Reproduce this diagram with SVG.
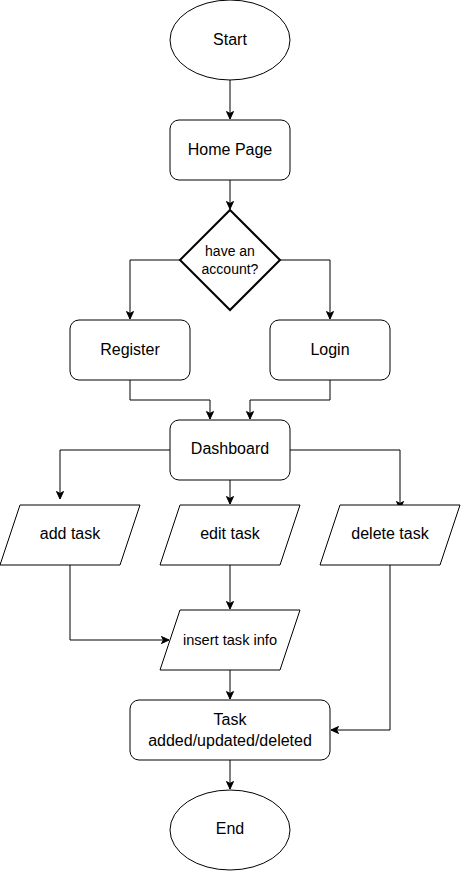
<svg xmlns="http://www.w3.org/2000/svg" width="461" height="871" viewBox="0 0 461 871">
<style>
.s{fill:#fff;stroke:#000;stroke-width:1}
.d{fill:#fff;stroke:#000;stroke-width:2}
.t{font-family:"Liberation Sans",Arial,sans-serif;font-size:16px;fill:#000;text-anchor:middle;dominant-baseline:central}
.sm{font-size:14px}
.ins{font-size:14.6px}
.c{fill:none;stroke:#000;stroke-width:1;marker-end:url(#a)}
</style>
<defs>
<marker id="a" markerUnits="userSpaceOnUse" markerWidth="10" markerHeight="10" refX="8" refY="4" orient="auto">
<path d="M0.5,0.5 L8,4 L0.5,7.5 L2.5,4 z" fill="#000" stroke="#000" stroke-width="1"/>
</marker>
</defs>
<rect width="461" height="871" fill="#fff"/>
<g id="connectors">
<path class="c" d="M230,80 V119"/>
<path class="c" d="M230,180 V209"/>
<path class="c" d="M180,260 H130 V319"/>
<path class="c" d="M280,260 H330 V319"/>
<path class="c" d="M130,380 V400 H210 V419"/>
<path class="c" d="M330,380 V400 H250 V419"/>
<path class="c" d="M170,450 H60 V499"/>
<path class="c" d="M230,480 V504"/>
<path class="c" d="M290,450 H400 V509"/>
<path class="c" d="M70,565 V640 H169"/>
<path class="c" d="M230,565 V609"/>
<path class="c" d="M390,565 V730 H331"/>
<path class="c" d="M230,670 V699"/>
<path class="c" d="M230,760 V789"/>
</g>
<g id="start"><ellipse class="s" cx="230" cy="40" rx="60" ry="40"/><text class="t" x="230" y="39">Start</text></g>
<g id="home"><rect class="s" x="170" y="120" width="120" height="60" rx="9"/><text class="t" x="230" y="149">Home Page</text></g>
<g id="decision"><polygon class="d" points="230,210 280,260 230,310 180,260"/><text class="t sm" x="230" y="251">have an</text><text class="t sm" x="230" y="269">account?</text></g>
<g id="register"><rect class="s" x="70" y="320" width="120" height="60" rx="9"/><text class="t" x="130" y="349">Register</text></g>
<g id="login"><rect class="s" x="270" y="320" width="120" height="60" rx="9"/><text class="t" x="330" y="349">Login</text></g>
<g id="dashboard"><rect class="s" x="170" y="420" width="120" height="60" rx="9"/><text class="t" x="230" y="448">Dashboard</text></g>
<g id="add"><polygon class="s" points="20,505 140,505 120,565 0,565"/><text class="t" x="70" y="533">add task</text></g>
<g id="edit"><polygon class="s" points="180,505 300,505 280,565 160,565"/><text class="t" x="230" y="533">edit task</text></g>
<g id="delete"><polygon class="s" points="340,505 460,505 440,565 320,565"/><text class="t" x="390" y="533">delete task</text></g>
<g id="insert"><polygon class="s" points="180,610 300,610 280,670 160,670"/><text class="t ins" x="230" y="640">insert task info</text></g>
<g id="result"><rect class="s" x="130" y="700" width="200" height="60" rx="9"/><text class="t" x="230" y="719">Task</text><text class="t" x="230" y="740">added/updated/deleted</text></g>
<g id="end"><ellipse class="s" cx="230" cy="830" rx="60" ry="40"/><text class="t" x="230" y="828">End</text></g>
</svg>
